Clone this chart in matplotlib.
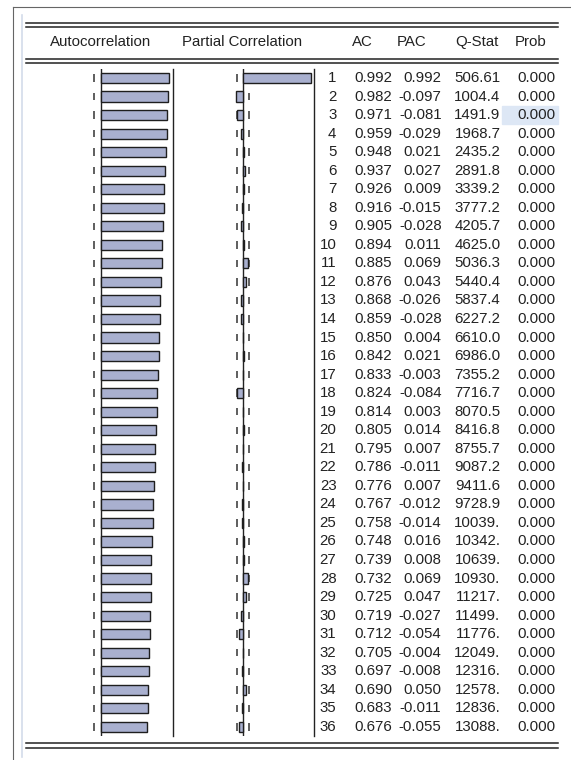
import numpy as np
import matplotlib.pyplot as plt
from matplotlib.patches import Rectangle

plt.rcParams['font.family'] = ['Liberation Sans', 'DejaVu Sans']

# correlogram of the series, 36 lags
lags = np.arange(1, 37)
ac = [0.992, 0.982, 0.971, 0.959, 0.948, 0.937, 0.926, 0.916, 0.905, 0.894,
      0.885, 0.876, 0.868, 0.859, 0.850, 0.842, 0.833, 0.824, 0.814, 0.805,
      0.795, 0.786, 0.776, 0.767, 0.758, 0.748, 0.739, 0.732, 0.725, 0.719,
      0.712, 0.705, 0.697, 0.690, 0.683, 0.676]
pac = [0.992, -0.097, -0.081, -0.029, 0.021, 0.027, 0.009, -0.015, -0.028, 0.011,
       0.069, 0.043, -0.026, -0.028, 0.004, 0.021, -0.003, -0.084, 0.003, 0.014,
       0.007, -0.011, 0.007, -0.012, -0.014, 0.016, 0.008, 0.069, 0.047, -0.027,
       -0.054, -0.004, -0.008, 0.050, -0.011, -0.055]
q_stat = [506.61, 1004.4, 1491.9, 1968.7, 2435.2, 2891.8, 3339.2, 3777.2, 4205.7, 4625.0,
          5036.3, 5440.4, 5837.4, 6227.2, 6610.0, 6986.0, 7355.2, 7716.7, 8070.5, 8416.8,
          8755.7, 9087.2, 9411.6, 9728.9, 10039, 10342, 10639, 10930, 11217, 11499,
          11776, 12049, 12316, 12578, 12836, 13088]
prob = [0.000] * 36
n_obs = 512
band = 2 / np.sqrt(n_obs)

W, H = 571, 760
fig = plt.figure(figsize=(W / 100, H / 100), dpi=100)


def rect(x0, y0, x1, y1):
    return [x0 / W, 1 - y1 / H, (x1 - x0) / W, (y1 - y0) / H]


def fmt_q(v):
    # five significant digits, like the EViews output
    if v >= 10000:
        return f"{v:.0f}."
    if v >= 1000:
        return f"{v:.1f}"
    return f"{v:.2f}"


ROW0, ROWH = 78.0, 18.54
top = ROW0 - ROWH / 2
bot = ROW0 + 35.5 * ROWH
INK = '#222222'
FS = 10.8

# background: frame, double rules, headers
bg = fig.add_axes([0, 0, 1, 1])
bg.set_xlim(0, W)
bg.set_ylim(H, 0)
bg.axis('off')
bg.plot([13, W], [7, 7], color='#666666', lw=0.8)
bg.plot([13, 13], [7, H], color='#666666', lw=0.8)
bg.plot([22, 22], [15, 757], color='#d3dcea', lw=1.2)
for y in (23, 26.5, 59, 62.5, 743, 747.5):
    bg.plot([26, 558], [y, y], color=INK, lw=1.1)

headers = [('Autocorrelation', 100.5), ('Partial Correlation', 242),
           ('AC', 362.5), ('PAC', 411.5), ('Q-Stat', 476.5), ('Prob', 531)]
for txt, x in headers:
    bg.text(x, 42, txt, ha='center', va='center', fontsize=FS, color=INK)

SCALE = 69.0  # pixels per unit correlation


def panel(x0, zero, x1, vals):
    ax = fig.add_axes(rect(x0, top, x1, bot))
    ax.set_xlim((x0 - zero) / SCALE, (x1 - zero) / SCALE)
    ax.set_ylim(36.5, 0.5)
    ax.set_xticks([])
    ax.set_yticks([])
    for s in ('left', 'top', 'bottom'):
        ax.spines[s].set_visible(False)
    ax.spines['right'].set_linewidth(1.0)
    ax.spines['right'].set_color(INK)
    ax.patch.set_visible(False)
    ax.axvline(0, color=INK, lw=1.0, zorder=1)
    ax.vlines([-band] * len(lags), lags - 0.2, lags + 0.2, color='#333333', lw=1.1, zorder=2)
    ax.vlines([band] * len(lags), lags - 0.2, lags + 0.2, color='#333333', lw=1.1, zorder=2)
    ax.barh(lags, vals, height=0.55, color='#a9b0cf', edgecolor='#1e1e1e',
            linewidth=1.0, zorder=3)
    return ax


ax_ac = panel(27, 100.5, 173, ac)
ax_pac = panel(173, 243, 314, pac)

# numeric table
tab = fig.add_axes(rect(314, top, W, bot))
tab.set_xlim(314, W)
tab.set_ylim(36.5, 0.5)
tab.axis('off')
tab.add_patch(Rectangle((502, 2.5), 56, 1.0, color='#dde7f5', zorder=0))

cols = [336.5, 392, 441.5, 500.5, 555]
for i, lag in enumerate(lags):
    cells = [str(lag), f"{ac[i]:.3f}", f"{pac[i]:.3f}", fmt_q(q_stat[i]), f"{prob[i]:.3f}"]
    for x, s in zip(cols, cells):
        tab.text(x, lag, s, ha='right', va='center', fontsize=FS, color=INK)

fig.savefig('out.png', dpi=100)
